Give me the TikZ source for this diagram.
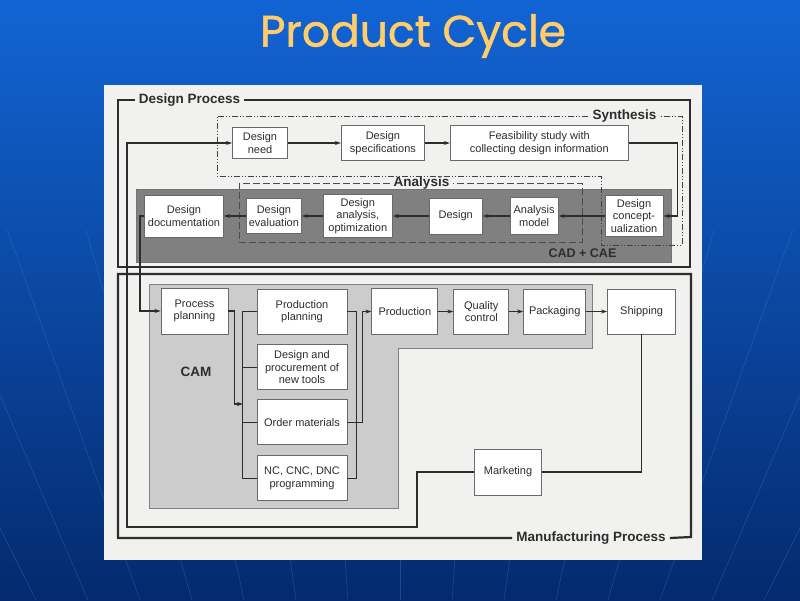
\documentclass[tikz,border=0pt]{standalone}
\usepackage{fontspec}
\setmainfont{Liberation Sans}
\newfontfamily\titlefont{Poppins}[FakeBold=1.2]
\usetikzlibrary{positioning,arrows.meta}

\definecolor{bgtop}{RGB}{18,100,212}
\definecolor{bgbot}{RGB}{4,42,110}
\definecolor{gridblue}{RGB}{80,140,220}
\definecolor{paper}{RGB}{241,241,239}
\definecolor{titlegold}{RGB}{255,205,105}
\definecolor{ink}{RGB}{45,45,45}
\definecolor{edge}{RGB}{105,105,105}
\definecolor{cadgrey}{RGB}{128,128,128}
\definecolor{camgrey}{RGB}{204,204,204}

\begin{document}
\begin{tikzpicture}[
  x=1pt, y=-1pt,
  font=\fontsize{11}{12.5}\selectfont,
  box/.style={draw=edge, line width=0.9pt, fill=white, align=center, inner sep=1pt, text=ink, minimum width=#1},
  box/.default=55pt,
  hdr/.style={font=\fontsize{13.5}{15}\selectfont\bfseries, text=ink, inner sep=4pt},
  frame/.style={line width=2.2pt, ink},
  synth/.style={line width=0.9pt, black!75, dash pattern=on 6pt off 2pt on 1pt off 2pt on 1pt off 2pt},
  anal/.style={line width=0.9pt, black!70, dash pattern=on 7pt off 3pt},
  conn/.style={line width=1.3pt, ink},
  arr/.style={conn, -{Stealth[length=6pt,width=4pt]}}]
\useasboundingbox (0,0) rectangle (800,600);
\shade[top color=bgtop, bottom color=bgbot] (0,0) rectangle (800,600);
\begin{scope}
  \clip (0,230) rectangle (800,600);
  \foreach \k in {-8,...,8}
    \draw[gridblue, line width=0.6pt, opacity=0.3] (400+\k*95,0) -- (400+\k*52,600);
\end{scope}
% title
\node[font=\titlefont\fontsize{44}{50}\selectfont, text=titlegold] (title) at (413,36) {Product Cycle};
% scanned page
\fill[paper] (104,85) rectangle (702,560);
\filldraw[fill=cadgrey, draw=black!55, line width=0.6pt] (136,189) rectangle (671,262);
\filldraw[fill=camgrey, draw=black!50, line width=0.8pt] (149,284) -- (592,284) -- (592,348) -- (398,348)
  -- (398,508) -- (149,508) -- cycle;
% headers
\node[hdr] (dplab) at (189.5,100) {Design Process};
\node[hdr] (mplab) at (591,538) {Manufacturing Process};
\node[hdr] (synlab) at (624.5,116) {Synthesis};
\node[hdr] (anlab) at (421.5,183) {Analysis};
\node[hdr, font=\fontsize{12.5}{14}\selectfont\bfseries] (cadlab) at (582.5,253) {CAD + CAE};
\node[hdr] (camlab) at (196,372) {CAM};
% synthesis row
\node[box=55pt, minimum height=31pt] (need) at (260,143) {Design\\need};
\node[box=83pt, minimum height=35pt, right=53pt of need] (spec) {Design\\specifications};
\node[box=178pt, minimum height=35pt, right=25pt of spec] (feas) {Feasibility study with\\collecting design information};
% CAD + CAE row
\node[box=58pt, minimum height=41pt] (concept) at (634,216) {Design\\concept-\\ualization};
\node[box=48pt, minimum height=37pt, left=46pt of concept] (model) {Analysis\\model};
\node[box=53pt, minimum height=36pt, left=27pt of model] (design) {Design};
\node[box=69pt, minimum height=43pt, left=36pt of design] (optim) {Design\\analysis,\\optimization};
\node[box=55pt, minimum height=35pt, left=21pt of optim] (eval) {Design\\evaluation};
\node[box=79pt, minimum height=42pt, left=22pt of eval] (doc) {Design\\documentation};
% CAM
\node[box=67pt, minimum height=46pt] (procplan) at (194.5,311) {Process\\planning};
\node[box=90pt, minimum height=45pt] (prodplan) at (302,311.5) {Production\\planning};
\node[box=90pt, minimum height=45pt, below=10pt of prodplan] (tools) {Design and\\procurement of\\new tools};
\node[box=90pt, minimum height=45pt, below=9pt of tools] (ordermat) {Order materials};
\node[box=90pt, minimum height=45pt, below=10pt of ordermat] (nc) {NC, CNC, DNC\\programming};
\node[box=66pt, minimum height=46pt, right=24pt of prodplan] (production) {Production};
\node[box=55pt, minimum height=45pt, right=15pt of production] (quality) {Quality\\control};
\node[box=62pt, minimum height=45pt, right=14pt of quality] (pack) {Packaging};
\node[box=68pt, minimum height=45pt, right=21pt of pack] (ship) {Shipping};
\node[box=67pt, minimum height=46pt] (mkt) at (508,472) {Marketing};
% frames
\draw[frame] (dplab.west) -| (118,267) -| (690,100) -- (dplab.east);
\draw[frame] (mplab.west) -| (118,274) -| (691,537) -- (mplab.east);
\draw[synth] (synlab.west) -| (217,176) -- (601,176) -- (601,245) -- (682,245) -- (682,116) -- (synlab.east);
\draw[anal] (anlab.west) -| (239,242) -| (582,183) -- (anlab.east);
% connectors
\draw[arr] (need) -- (spec);
\draw[arr] (spec) -- (feas);
\draw[arr] (feas.east) -- ++(49,0) |- (concept.east);
\draw[arr] (concept) -- (model);
\draw[arr] (model) -- (design);
\draw[arr] (design) -- (optim);
\draw[arr] (optim) -- (eval);
\draw[arr] (eval) -- (doc);
\draw[arr] (doc.west) -- ++(-4,0) |- (procplan.west);
\coordinate (busin) at (243,404);
\draw[conn] (prodplan.west) -- ++(-14,0) |- (nc.west);
\draw[conn] (tools.west) -- ++(-14,0);
\draw[conn] (ordermat.west) -- ++(-14,0);
\draw[arr] (procplan.east) -- ++(6,0) |- (busin);
\draw[conn] (prodplan.east) -- ++(9,0) |- (nc.east);
\draw[arr] (ordermat.east) -- ++(15,0) |- (production.west);
\draw[arr] (production) -- (quality);
\draw[arr] (quality) -- (pack);
\draw[arr] (pack) -- (ship);
\draw[conn] (ship.south) |- (mkt.east);
\coordinate (loopa) at (417,527);
\coordinate (loopb) at (127,527);
\draw[arr] (mkt.west) -| (loopa) -- (loopb) |- (need.west);
\end{tikzpicture}
\end{document}
